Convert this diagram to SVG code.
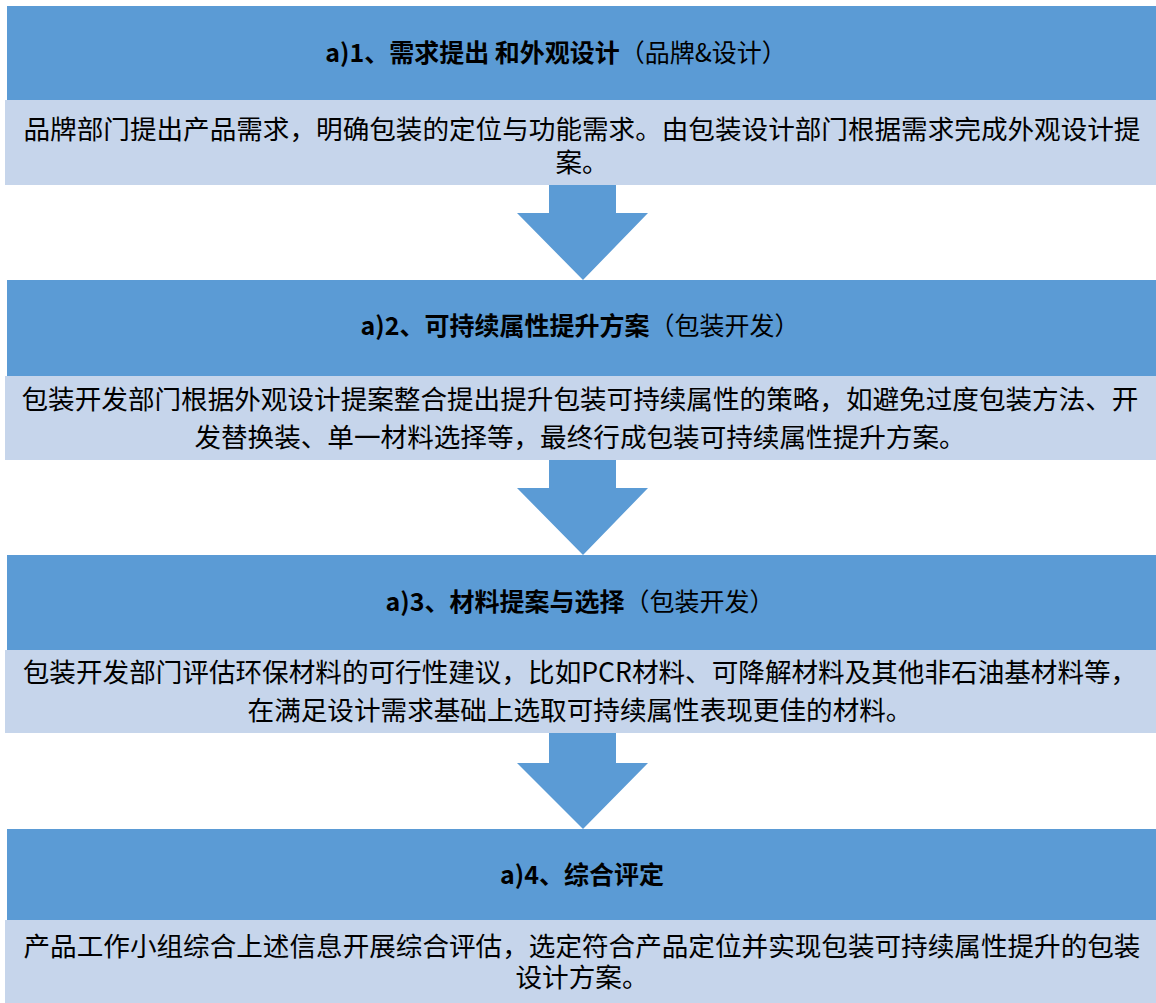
<svg xmlns="http://www.w3.org/2000/svg" width="1156" height="1003" viewBox="0 0 1156 1003">
<style>
.hd{fill:#5B9BD5;}
.bd{fill:#C6D5EB;}
.ar{fill:#5B9BD5;}
text{font-family:"Noto Sans CJK SC","Microsoft YaHei",sans-serif;fill:#000;}
.t{font-size:25px;text-anchor:middle;}
.b{font-weight:bold;}
.n{font-weight:normal;}
.x{font-size:26.6px;text-anchor:middle;}
</style>
<rect width="1156" height="1003" fill="#fff"/>
<g id="step1">
<rect class="bd" x="5" y="100" width="1151" height="85"/>
<rect class="hd" x="7" y="6" width="1149" height="94"/>
<text class="t" x="556" y="62"><tspan class="b">a)1、需求提出 和外观设计</tspan><tspan class="n">（品牌&amp;设计）</tspan></text>
<text class="x" x="582" y="139">品牌部门提出产品需求，明确包装的定位与功能需求。由包装设计部门根据需求完成外观设计提</text>
<text class="x" x="582" y="172">案。</text>
</g>
<g id="step2">
<rect class="bd" x="5" y="376" width="1151" height="84"/>
<rect class="hd" x="7" y="280" width="1149" height="96"/>
<text class="t" x="580" y="335"><tspan class="b">a)2、可持续属性提升方案</tspan><tspan class="n">（包装开发）</tspan></text>
<text class="x" x="580" y="409">包装开发部门根据外观设计提案整合提出提升包装可持续属性的策略，如避免过度包装方法、开</text>
<text class="x" x="580" y="447">发替换装、单一材料选择等，最终行成包装可持续属性提升方案。</text>
</g>
<g id="step3">
<rect class="bd" x="5" y="650" width="1151" height="83"/>
<rect class="hd" x="7" y="555" width="1149" height="95"/>
<text class="t" x="580" y="611"><tspan class="b">a)3、材料提案与选择</tspan><tspan class="n">（包装开发）</tspan></text>
<text class="x" x="580" y="682">包装开发部门评估环保材料的可行性建议，比如PCR材料、可降解材料及其他非石油基材料等，</text>
<text class="x" x="580" y="720">在满足设计需求基础上选取可持续属性表现更佳的材料。</text>
</g>
<g id="step4">
<rect class="bd" x="5" y="920" width="1151" height="83"/>
<rect class="hd" x="7" y="829" width="1149" height="91"/>
<text class="t b" x="582" y="884">a)4、综合评定</text>
<text class="x" x="582" y="956">产品工作小组综合上述信息开展综合评估，选定符合产品定位并实现包装可持续属性提升的包装</text>
<text class="x" x="582" y="987">设计方案。</text>
</g>
<g id="connectors">
<polygon class="ar" points="549,185 616,185 616,213 648,213 583,280 517,213 549,213"/>
<polygon class="ar" points="549,460 616,460 616,488 648,488 583,555 517,488 549,488"/>
<polygon class="ar" points="549,733 616,733 616,763 648,763 583,829 517,763 549,763"/>
</g>
</svg>
